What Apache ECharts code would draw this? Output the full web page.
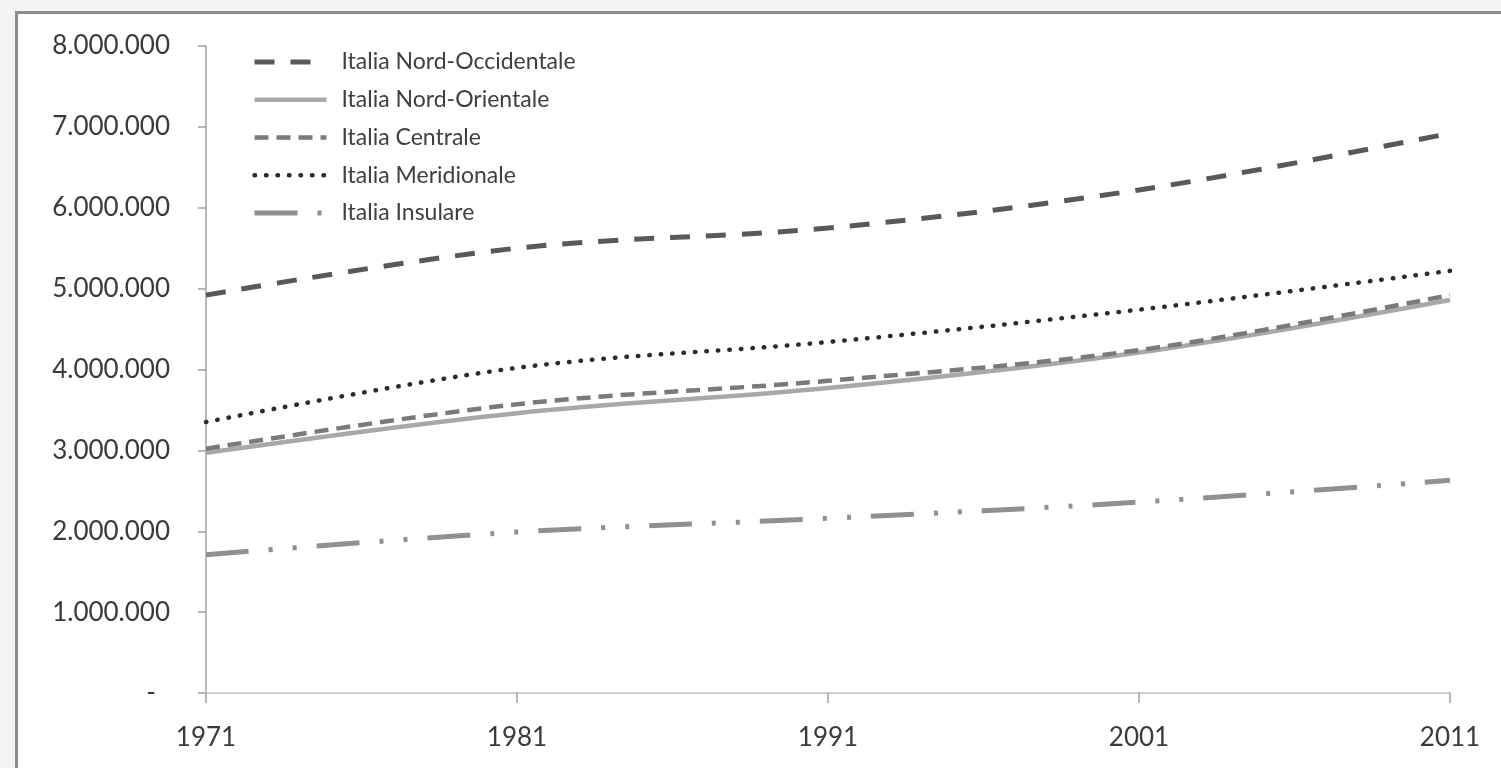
<!DOCTYPE html>
<html>
<head>
<meta charset="utf-8">
<script src="https://cdn.jsdelivr.net/npm/echarts@6/dist/echarts.min.js"></script>
<style>
  html, body { margin: 0; padding: 0; background: #f4f4f4; }
  #chart { width: 1501px; height: 768px; }
</style>
</head>
<body>
<div id="chart"></div>
<script>
// Data
const years = ['1971', '1981', '1991', '2001', '2011'];
const nordOccidentale = [4920000, 5500000, 5750000, 6220000, 6920000];
const nordOrientale   = [2970000, 3460000, 3770000, 4210000, 4860000];
const centrale        = [3020000, 3570000, 3860000, 4240000, 4920000];
const meridionale     = [3350000, 4020000, 4340000, 4740000, 5220000];
const insulare        = [1710000, 1990000, 2160000, 2360000, 2630000];
const seriesNames = ['Italia Nord-Occidentale', 'Italia Nord-Orientale', 'Italia Centrale', 'Italia Meridionale', 'Italia Insulare'];

function fmt(v) {
  if (v === 0) return '{z|-}';
  return String(v).replace(/\B(?=(\d{3})+(?!\d))/g, '.');
}

const styles = [
  { color: '#595959', width: 5,   type: [20, 16], cap: 'butt' },
  { color: '#a8a8a8', width: 4.5, type: 'solid', cap: 'butt' },
  { color: '#7a7a7a', width: 4.5, type: [14, 8], cap: 'butt' },
  { color: '#2b2b2b', width: 4.5, type: [0.5, 11], cap: 'round' },
  { color: '#909090', width: 5,   type: [43, 20, 4, 20, 4, 20], cap: 'butt' }
];
const seriesData = [nordOccidentale, nordOrientale, centrale, meridionale, insulare];

const chart = echarts.init(document.getElementById('chart'), null, { renderer: 'canvas' });

chart.setOption({
  animation: false,
  backgroundColor: 'transparent',
  graphic: [{
    type: 'rect',
    left: 15, top: 11,
    shape: { width: 1600, height: 900 },
    style: { fill: '#ffffff', stroke: '#8c8c8c', lineWidth: 3 },
    z: -10, silent: true
  }],
  grid: { left: 206, right: 51, top: 46, bottom: 75, containLabel: false },
  legend: {
    orient: 'vertical',
    left: 252, top: 50.5, padding: 0,
    itemWidth: 72, itemHeight: 14, itemGap: 14.75,
    data: seriesNames.map((n, i) => ({
      name: n,
      itemStyle: { opacity: 0 },
      lineStyle: { color: styles[i].color, width: styles[i].width, type: styles[i].type, cap: styles[i].cap }
    })),
    textStyle: { fontFamily: 'Lato', fontSize: 23, color: '#404040', lineHeight: 23, padding: [0, 0, 0, 10] },
    selectedMode: false
  },
  xAxis: {
    type: 'category',
    data: years,
    boundaryGap: false,
    axisLine: { lineStyle: { color: '#cfcfcf', width: 2 } },
    axisTick: { show: true, length: 10, lineStyle: { color: '#a0a0a0', width: 1.5 } },
    axisLabel: { fontFamily: 'Lato', fontSize: 26, color: '#3a3a3a', margin: 32 },
    splitLine: { show: false }
  },
  yAxis: {
    type: 'value',
    min: 0, max: 8000000, interval: 1000000,
    axisLine: { show: true, lineStyle: { color: '#a0a0a0', width: 1.5 } },
    axisTick: { show: true, length: 8, lineStyle: { color: '#a0a0a0', width: 1.5 } },
    axisLabel: {
      fontFamily: 'Lato', fontSize: 26, color: '#3a3a3a', margin: 36,
      formatter: fmt,
      rich: { z: { fontFamily: 'Lato', fontSize: 26, color: '#3a3a3a', padding: [0, 14, 0, 0] } }
    },
    splitLine: { show: false }
  },
  series: seriesNames.map((n, i) => ({
    name: n,
    type: 'line',
    data: seriesData[i],
    smooth: 0.35,
    symbol: 'none',
    lineStyle: { color: styles[i].color, width: styles[i].width, type: styles[i].type, cap: styles[i].cap },
    itemStyle: { color: styles[i].color },
    emphasis: { disabled: true }
  }))
});
</script>
</body>
</html>
